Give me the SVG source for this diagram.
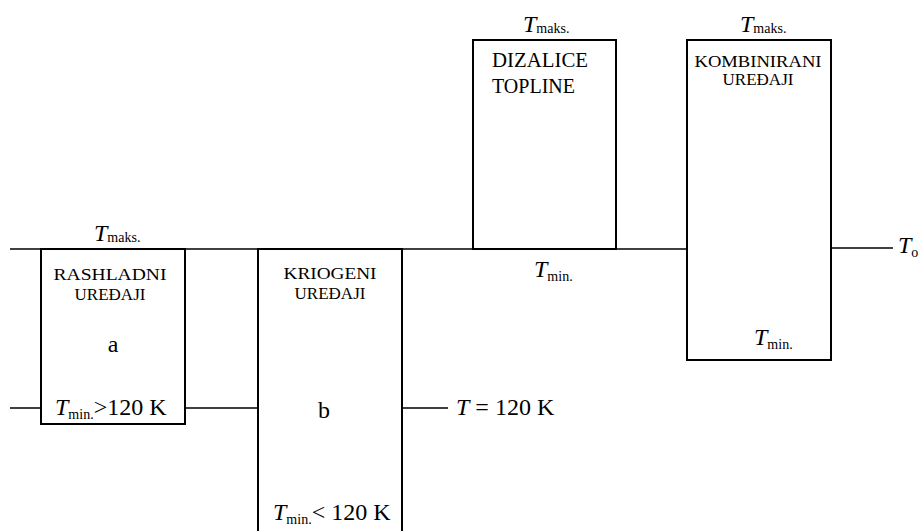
<svg xmlns="http://www.w3.org/2000/svg" width="920" height="531" viewBox="0 0 920 531" font-family="'Liberation Serif', 'DejaVu Serif', serif">
<style>
.box{fill:#fff;stroke:#000;stroke-width:2}
.ln{stroke:#000;stroke-width:1.4;fill:none}
text{font-family:"Liberation Serif","DejaVu Serif",serif;fill:#000}
.lab{font-size:17px;text-anchor:middle}
.big{font-size:24px}
.T{font-style:italic;font-size:24px}
.sub{font-size:14px;font-style:normal}
</style>
<rect width="920" height="531" fill="#fff"/>
<g id="connectors">
<path class="ln" d="M10 249H687"/>
<path class="ln" d="M831 248H893"/>
<path class="ln" d="M10 408H41M185 408H258M402 408H448"/>
</g>
<g id="rashladni">
<rect class="box" x="41" y="249" width="144" height="175"/>
<text class="lab" x="110" y="280" textLength="113" lengthAdjust="spacingAndGlyphs">RASHLADNI</text>
<text class="lab" x="110" y="300">UREĐAJI</text>
<text class="big" x="113" y="352" text-anchor="middle">a</text>
<text x="55" y="415"><tspan class="T">T</tspan><tspan class="sub" dy="4">min.</tspan><tspan class="big" dy="-4">&gt;120 K</tspan></text>
<text x="94" y="241"><tspan class="T">T</tspan><tspan class="sub" dy="1">maks.</tspan></text>
</g>
<g id="kriogeni">
<rect class="box" x="258" y="249" width="144" height="300"/>
<text class="lab" x="330" y="279" textLength="93" lengthAdjust="spacingAndGlyphs">KRIOGENI</text>
<text class="lab" x="330" y="299">UREĐAJI</text>
<text class="big" x="324" y="418" text-anchor="middle">b</text>
<text x="273" y="520"><tspan class="T">T</tspan><tspan class="sub" dy="4">min.</tspan><tspan class="big" dy="-4">&lt; 120 K</tspan></text>
</g>
<text x="456" y="415"><tspan class="T">T</tspan><tspan class="big"> = 120 K</tspan></text>
<g id="dizalice">
<rect class="box" x="473" y="40" width="143" height="209"/>
<text x="492" y="67" font-size="20" textLength="96" lengthAdjust="spacingAndGlyphs">DIZALICE</text>
<text x="492" y="93" font-size="20">TOPLINE</text>
<text x="523" y="32"><tspan class="T">T</tspan><tspan class="sub" dy="1">maks.</tspan></text>
<text x="534" y="277"><tspan class="T">T</tspan><tspan class="sub" dy="4">min.</tspan></text>
</g>
<g id="kombinirani">
<rect class="box" x="687" y="40" width="144" height="320"/>
<text class="lab" x="758" y="67" textLength="127" lengthAdjust="spacingAndGlyphs">KOMBINIRANI</text>
<text class="lab" x="758" y="85">UREĐAJI</text>
<text x="740" y="32"><tspan class="T">T</tspan><tspan class="sub" dy="1">maks.</tspan></text>
<text x="754" y="345"><tspan class="T">T</tspan><tspan class="sub" dy="4">min.</tspan></text>
</g>
<text x="898" y="253"><tspan class="T">T</tspan><tspan class="sub" dy="4" font-size="12">o</tspan></text>
</svg>
